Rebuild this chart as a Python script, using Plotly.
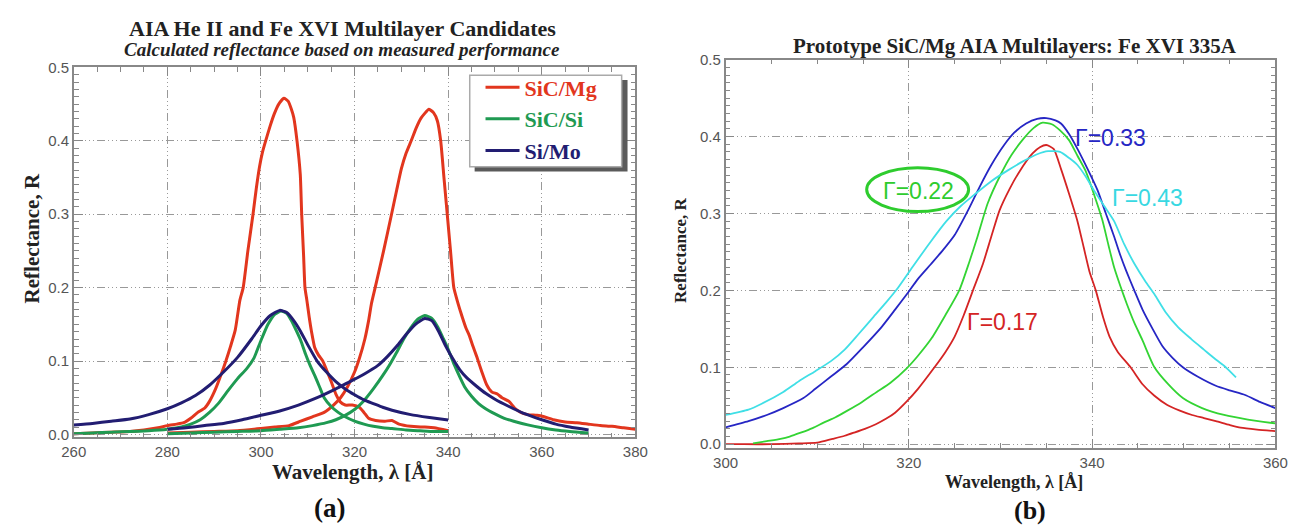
import plotly.graph_objects as go

W, H = 1308, 529
def px(x): return x / W
def py(y): return 1 - y / H

# ---------------- Panel (a) data ----------------
mg_he_x = [260,264,268,272,275,278,280,282,283.5,285,286.5,288,289,290.3,291.5,292.5,293.5,294.5,295.5,296.2,297.2,298.3,299,299.7,300.3,301,302,302.8,303.8,304.9,305.8,306.5,307,307.7,308.4,308.7,309.1,309.4,309.8,310.3,310.8,311.5,312.3,313.2,314,315,316,317,318,319.5,321,322,323,324.5,326.5,328,329.5,332,335,337,340]
mg_he_y = [0.001,0.002,0.003,0.004,0.006,0.009,0.012,0.014,0.016,0.022,0.030,0.036,0.045,0.062,0.082,0.100,0.120,0.142,0.183,0.200,0.250,0.300,0.335,0.365,0.384,0.400,0.421,0.436,0.450,0.458,0.454,0.443,0.432,0.400,0.354,0.300,0.245,0.200,0.183,0.160,0.140,0.118,0.108,0.100,0.088,0.072,0.055,0.044,0.040,0.040,0.037,0.030,0.022,0.019,0.018,0.019,0.014,0.011,0.010,0.009,0.005]

mg_fe_x = [280,285,290,295,300,303,306,308.5,311,313.5,315.5,317,318.5,320,321,322.2,323,323.6,324.4,326.2,327.9,329,330,331,332.1,333.2,334.2,335.9,336.9,337.7,338.4,339.1,339.8,340.5,341.2,341.9,342.5,343,343.8,344.5,345.3,346.1,347.2,348.2,349.3,350.5,351.5,353,354.2,355.5,357,359,360.5,362.5,365,367.5,370,372.5,375,377.5,380]
mg_fe_y = [0.002,0.003,0.004,0.005,0.008,0.010,0.012,0.018,0.024,0.030,0.040,0.050,0.065,0.085,0.103,0.130,0.155,0.178,0.200,0.250,0.300,0.333,0.362,0.383,0.400,0.418,0.431,0.443,0.438,0.427,0.400,0.350,0.300,0.250,0.200,0.183,0.170,0.160,0.145,0.135,0.120,0.106,0.085,0.068,0.058,0.055,0.050,0.045,0.036,0.030,0.027,0.026,0.024,0.020,0.017,0.016,0.014,0.012,0.011,0.009,0.007]

si_he_x = [260,264,268,272,276,280,283,285,287,289,291,293,295,297,298.5,300,301.5,303,304.3,305.5,306.5,307.5,308.5,309.5,310.5,311.5,312.5,313.5,315,316.5,318,320,322,324,326,328,331,334,337,340]
si_he_y = [0.001,0.002,0.003,0.004,0.005,0.007,0.010,0.014,0.020,0.030,0.043,0.060,0.076,0.090,0.104,0.128,0.150,0.164,0.168,0.165,0.155,0.142,0.128,0.110,0.094,0.080,0.065,0.050,0.038,0.030,0.024,0.018,0.014,0.011,0.009,0.008,0.006,0.005,0.004,0.004]

si_fe_x = [280,285,290,295,300,304,308,311,314,316,318,320,322,324,326,327.5,329,330.5,332,333.5,335,336.5,337.8,339,340,341.3,342.5,343.5,345,346.5,348,350,352,354,357,360,363,366,370]
si_fe_y = [0.001,0.002,0.003,0.004,0.005,0.007,0.009,0.012,0.016,0.020,0.026,0.034,0.046,0.062,0.080,0.095,0.112,0.130,0.145,0.157,0.162,0.158,0.146,0.130,0.116,0.095,0.078,0.065,0.052,0.042,0.035,0.028,0.022,0.018,0.013,0.009,0.006,0.004,0.002]

mo_he_x = [260,264,268,272,276,280,283,286,289,292,295,298,300,302,304,305.5,307,308.5,310,312,314,316,318,320,322,324,326,328,332,336,340]
mo_he_y = [0.013,0.015,0.018,0.021,0.027,0.035,0.043,0.053,0.067,0.085,0.105,0.130,0.148,0.162,0.169,0.166,0.155,0.140,0.122,0.100,0.085,0.072,0.062,0.054,0.047,0.042,0.037,0.033,0.027,0.023,0.0195]

mo_fe_x = [280,284,288,292,296,300,304,308,312,316,319,322,325,327,329,331,333,335,336.5,338,339.5,341,342.5,344,346,348,350,353,356,360,363,366,370]
mo_fe_y = [0.007,0.009,0.012,0.015,0.020,0.026,0.032,0.040,0.050,0.062,0.072,0.082,0.094,0.106,0.120,0.136,0.150,0.158,0.155,0.140,0.120,0.103,0.088,0.077,0.066,0.056,0.048,0.038,0.029,0.020,0.014,0.010,0.006]

# ---------------- Panel (b) data ----------------
g17_x = [300,302,305,308,310,311.7,313,314,315.2,316.4,317.5,318.5,319.8,321,322.8,324,325,326,327,328.1,329,329.9,331,332.1,333.5,334.3,335,335.8,336.6,337.5,338.4,339.1,339.7,340.4,341.2,341.9,342.8,344.2,345.5,346.8,348.2,349.5,350.9,352.2,353.5,355,356.2,358,360]
g17_y = [0.000,0.000,0.000,0.001,0.002,0.007,0.011,0.015,0.020,0.026,0.033,0.041,0.056,0.072,0.100,0.120,0.140,0.168,0.200,0.235,0.270,0.304,0.332,0.355,0.378,0.386,0.389,0.384,0.358,0.325,0.290,0.255,0.225,0.200,0.165,0.140,0.120,0.100,0.078,0.063,0.051,0.044,0.038,0.034,0.030,0.025,0.0215,0.019,0.017]

g22_x = [303,304.5,306,307,308.2,309.5,310.7,312,313.2,314.9,316.5,318,319.8,321,322.5,324,325.5,326.6,327.5,328.6,330,331.2,332.5,333.6,334.6,335.6,336.5,337.5,338.4,339.3,340.2,341.1,341.8,342.4,343.1,343.8,344.6,345.5,346.8,348.3,349.9,352,354.4,357,360]
g22_y = [0.001,0.004,0.007,0.010,0.015,0.021,0.028,0.035,0.043,0.055,0.068,0.080,0.099,0.115,0.138,0.168,0.200,0.237,0.270,0.313,0.350,0.376,0.397,0.411,0.418,0.416,0.408,0.395,0.375,0.355,0.325,0.292,0.258,0.230,0.205,0.182,0.158,0.135,0.100,0.078,0.060,0.047,0.038,0.032,0.027]

g33_x = [300,302.5,304.5,306.3,308.5,309.8,311.5,313.2,315,317,318.5,319.9,321,322.4,323.7,325,326.5,327.7,329,330.4,331.5,332.8,334,335,336,336.6,337.5,338.4,339.5,340.6,341.5,342.4,343.1,343.7,344.6,345.5,346.6,347.7,348.8,349.9,351.5,353.5,355,356.7,358.3,360]
g33_y = [0.022,0.030,0.038,0.047,0.060,0.072,0.088,0.104,0.126,0.152,0.175,0.197,0.215,0.234,0.252,0.272,0.305,0.334,0.363,0.389,0.405,0.417,0.423,0.424,0.421,0.417,0.403,0.384,0.358,0.330,0.300,0.270,0.245,0.226,0.200,0.175,0.150,0.127,0.112,0.100,0.088,0.076,0.070,0.064,0.055,0.047]

g43_x = [300,302.5,304,306.3,308,309.8,311.5,313,314.5,316.1,317.5,318.8,320.5,322.3,324.1,325.7,327.2,329,330.8,332.5,334,335.2,336.5,337.5,338.4,339.3,340.2,341.3,342.4,343.5,344.6,345.8,346.8,348,349.4,350.8,352.2,353.3,354.4,355.1,355.7]
g43_y = [0.038,0.045,0.053,0.068,0.082,0.095,0.108,0.123,0.143,0.165,0.184,0.203,0.232,0.262,0.290,0.310,0.325,0.342,0.356,0.368,0.377,0.381,0.380,0.372,0.363,0.348,0.330,0.310,0.290,0.260,0.235,0.212,0.195,0.172,0.152,0.137,0.123,0.112,0.102,0.094,0.087]

legend_names = ["SiC/Mg", "SiC/Si", "Si/Mo"]
left_colors = ["#e2361e", "#1f9a52", "#221d72"]
right_colors = ["#d42424", "#33d433", "#2626c4", "#40dfe6"]
gamma_labels = ["Γ=0.17", "Γ=0.22", "Γ=0.33", "Γ=0.43"]

x_ticks_a = [260, 280, 300, 320, 340, 360, 380]
x_ticks_b = [300, 320, 340, 360]
y_ticks = [0.0, 0.1, 0.2, 0.3, 0.4, 0.5]

fig = go.Figure()

left_sets = [
    (mg_he_x, mg_he_y, mg_fe_x, mg_fe_y),
    (si_he_x, si_he_y, si_fe_x, si_fe_y),
    (mo_he_x, mo_he_y, mo_fe_x, mo_fe_y),
]
for i, (hx, hy, fx, fy) in enumerate(left_sets):
    nm = "<b><span style='color:%s'>%s</span></b>" % (left_colors[i], legend_names[i])
    fig.add_trace(go.Scatter(x=hx, y=hy, mode="lines", name=nm, legendgroup=str(i),
                             line=dict(color=left_colors[i], width=3, shape="spline", smoothing=0.5),
                             xaxis="x", yaxis="y", showlegend=True))
    fig.add_trace(go.Scatter(x=fx, y=fy, mode="lines", name=nm, legendgroup=str(i),
                             line=dict(color=left_colors[i], width=3, shape="spline", smoothing=0.5),
                             xaxis="x", yaxis="y", showlegend=False))

right_sets = [(g17_x, g17_y), (g22_x, g22_y), (g33_x, g33_y), (g43_x, g43_y)]
for i, (rx, ry) in enumerate(right_sets):
    fig.add_trace(go.Scatter(x=rx, y=ry, mode="lines", name=gamma_labels[i],
                             line=dict(color=right_colors[i], width=1.8, shape="spline", smoothing=0.6),
                             xaxis="x2", yaxis="y2", showlegend=False))

GRID = "8px,3px,1px,3px,1px,3px,1px,3px"
tickfont = dict(family="Liberation Sans, Arial, sans-serif", size=15, color="#555")
common = dict(showline=True, linecolor="#888", linewidth=1.5, mirror="allticks",
              ticks="inside", ticklen=9, tickcolor="#888", tickwidth=1,
              showgrid=True, gridcolor="#999", gridwidth=1, griddash=GRID,
              zeroline=False, tickfont=tickfont)

fig.update_layout(
    width=W, height=H, margin=dict(l=0, r=0, t=0, b=0),
    paper_bgcolor="white", plot_bgcolor="white",
    xaxis=dict(domain=[px(62), px(635)], range=[260, 380], tickvals=x_ticks_a, anchor="y",
               minor=dict(dtick=5, ticklen=5, ticks="inside", tickcolor="#888", showgrid=False), **common),
    yaxis=dict(domain=[py(440), py(60)], range=[-0.004, 0.5], tickvals=y_ticks, tickformat=".1f", anchor="x",
               minor=dict(dtick=0.01, ticklen=5, ticks="inside", tickcolor="#888", showgrid=False), **common),
    xaxis2=dict(domain=[px(727), px(1288)], range=[300, 360], tickvals=x_ticks_b, anchor="y2",
                minor=dict(dtick=5, ticklen=5, ticks="inside", tickcolor="#888", showgrid=False), **common),
    yaxis2=dict(domain=[py(451), py(52)], range=[-0.005, 0.5], tickvals=y_ticks, tickformat=".1f", anchor="x2",
                minor=dict(dtick=0.01, ticklen=5, ticks="inside", tickcolor="#888", showgrid=False), **common),
    legend=dict(x=px(477), y=py(59), xanchor="left", yanchor="top", bgcolor="rgba(0,0,0,0)",
                borderwidth=0,
                font=dict(family="Liberation Serif, Times New Roman, serif", size=22),
                tracegroupgap=0, itemwidth=34),
    showlegend=True,
)

serif = "Liberation Serif, Times New Roman, serif"
sans = "Liberation Sans, Arial, sans-serif"
ann = []
def A(text, x, y, size, family=serif, color="#222", angle=0, **kw):
    ann.append(dict(text=text, x=px(x), y=py(y), xref="paper", yref="paper", showarrow=False,
                    xanchor="center", yanchor="middle", textangle=angle,
                    font=dict(family=family, size=size, color=color), **kw))

A("<b>AIA He II and Fe XVI Multilayer Candidates</b>", 336, 20, 22)
A("<b><i>Calculated reflectance based on measured performance</i></b>", 336, 42, 19)
A("<b>Reflectance, R</b>", 19, 236, 21, angle=-90)
A("<b>Wavelength, λ [Å]</b>", 346, 476, 21)
A("<b>(a)</b>", 323, 513, 27, color="#111")

A("<b>Prototype SiC/Mg AIA Multilayers: Fe XVI 335A</b>", 1022, 38, 21)
A("<b>Reflectance, R</b>", 681, 247, 17, angle=-90)
A("<b>Wavelength, λ [Å]</b>", 1021, 486, 18)
A("<b>(b)</b>", 1038, 515, 26, color="#111")

A(gamma_labels[0], 1010, 321, 23, family=sans, color=right_colors[0])
A(gamma_labels[1], 924, 187, 23, family=sans, color="#2ecc2e")
A(gamma_labels[2], 1120, 133, 23, family=sans, color=right_colors[2])
A(gamma_labels[3], 1157, 194, 23, family=sans, color="#38d8e2")

fig.update_layout(annotations=ann)

# legend frame with drop shadow
fig.add_shape(type="rect", xref="paper", yref="paper",
              x0=px(471), x1=px(627), y0=py(167), y1=py(73),
              fillcolor="#5a5a5a", line=dict(width=0), layer="above")
fig.add_shape(type="rect", xref="paper", yref="paper",
              x0=px(466), x1=px(621), y0=py(162), y1=py(68),
              fillcolor="white", line=dict(color="#aaa", width=1.5), layer="above")
fig.add_shape(type="circle", xref="paper", yref="paper",
              x0=px(871), x1=px(975), y0=py(208), y1=py(163),
              line=dict(color="#2ecc2e", width=3), layer="above")

fig.write_html("out.html")
